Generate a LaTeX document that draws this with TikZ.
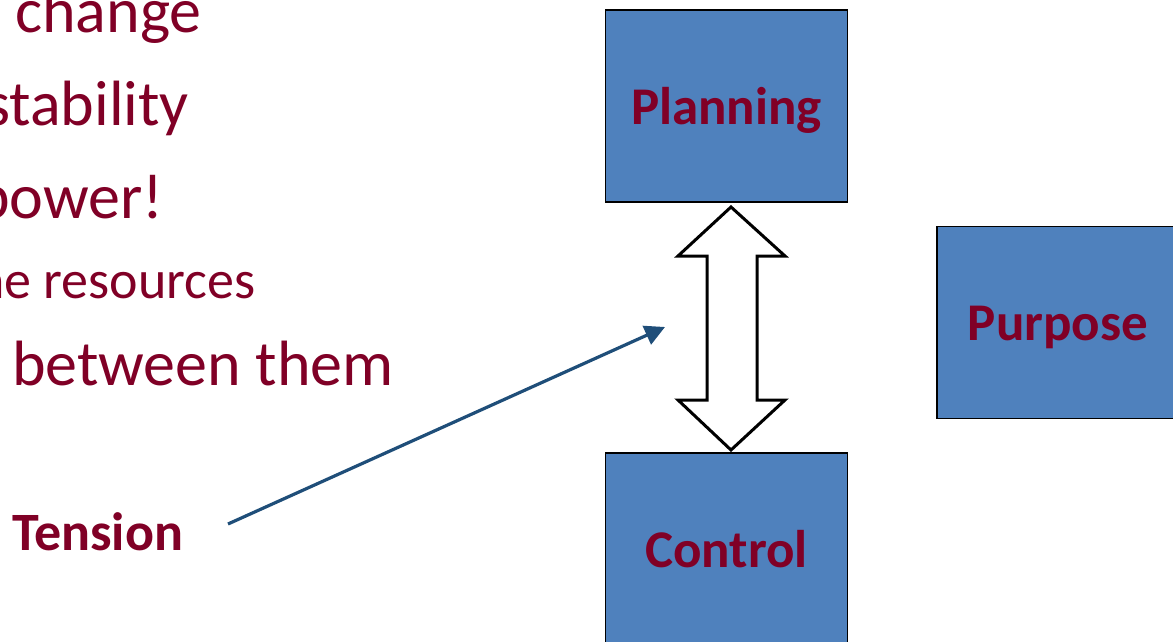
\documentclass[tikz,border=0pt]{standalone}
\usepackage{fontspec}
\setmainfont{Carlito}
\usetikzlibrary{arrows.meta}
\definecolor{boxblue}{RGB}{79,129,189}
\definecolor{wine}{RGB}{128,0,38}
\definecolor{navyline}{RGB}{31,78,121}
\tikzset{
  slidetext/.style={anchor=base west, inner sep=0pt, text=wine, font=\fontsize{64}{72}\selectfont},
  smalltext/.style={slidetext, font=\fontsize{54}{60}\selectfont},
  topicbox/.style={draw=black, line width=1.5pt, fill=boxblue, minimum width=242pt, minimum height=192pt,
    inner sep=0pt, text=wine, font=\fontsize{53}{60}\selectfont\bfseries, text height=36pt, text depth=0pt},
  pointer/.style={draw=navyline, line width=3.2pt, -{Triangle[length=20pt,width=20pt]}},
  twoway/.style={draw=black, line width=3pt, fill=white, line join=miter}
}
\begin{document}
\begin{tikzpicture}[x=1pt,y=-1pt]
\useasboundingbox (0,0) rectangle (1173,642);
\clip (0,0) rectangle (1173,642);

% bullet text running in from the left
\node[slidetext] (l1) at (15,33) {change};
\node[slidetext] (l2) at (-15,125) {stability};
\node[slidetext] (l3) at (-24,218) {power!};
\node[smalltext] (l4) at (-24,298) {ne resources};
\node[slidetext] (l5) at (12,385) {between them};

% the three boxes
\node[topicbox] (plan) at (726.5,106) {Planning};
\node[topicbox] (ctrl) at (726.5,549) {Control};
\node[topicbox] (purp) at (1058,322.5) {Purpose};

% open double arrow between Planning and Control
\path[twoway]
  (731,207) -- (785,256) -- (757,256) -- (757,400) -- (785,400)
  -- (731,450) -- (678,400) -- (707,400) -- (707,256) -- (678,256) -- cycle;

% label with its pointer
\node[anchor=base west, inner sep=0pt, text=wine, font=\fontsize{54}{60}\selectfont\bfseries] (tension) at (12,550) {Tension};
\coordinate (tstart) at (228,524);
\coordinate (ttip) at (665,327);
\draw[pointer] (tstart) -- (ttip);
\end{tikzpicture}
\end{document}
